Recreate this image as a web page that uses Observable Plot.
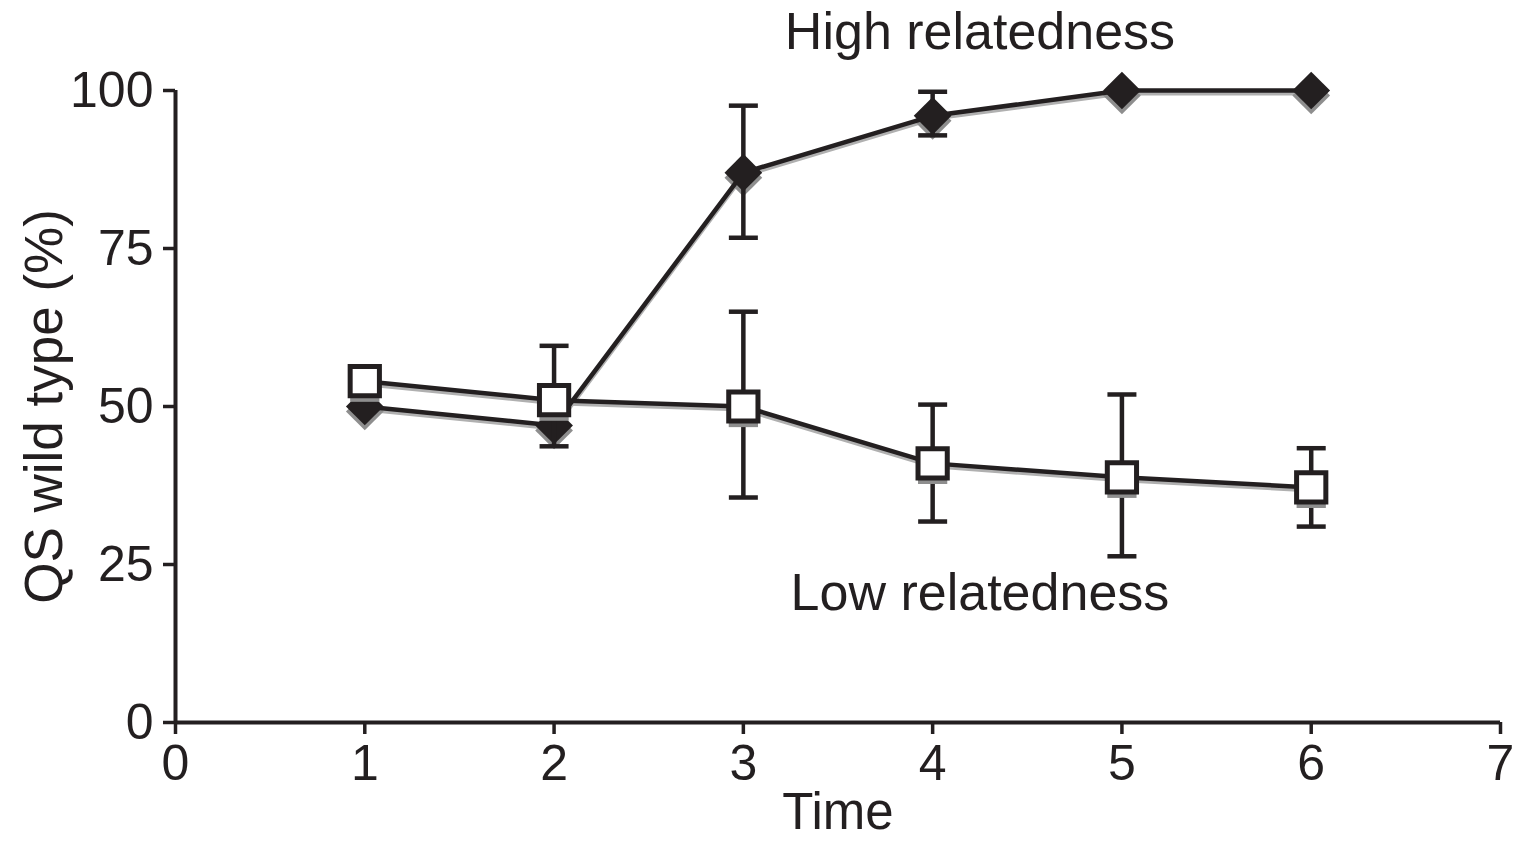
<!DOCTYPE html>
<html>
<head>
<meta charset="utf-8">
<script src="https://cdn.jsdelivr.net/npm/d3@7"></script>
<script src="https://cdn.jsdelivr.net/npm/@observablehq/plot@0.6"></script>
<style>
  html, body { margin: 0; padding: 0; background: #fff; }
  svg { display: block; }
</style>
</head>
<body>
<div id="chart"></div>
<script>
const times = [1, 2, 3, 4, 5, 6];
const highMean  = [50, 47, 87, 96, 100, 100];
const highLower = [50, 47, 76.7, 92.9, 100, 100];
const highUpper = [50, 47, 97.6, 99.8, 100, 100];
const lowMean  = [54, 51, 50, 41, 38.8, 37.2];
const lowLower = [54, 43.7, 35.6, 31.8, 26.3, 31.0];
const lowUpper = [54, 59.6, 65.0, 50.3, 51.9, 43.4];
const xTicks = [0, 1, 2, 3, 4, 5, 6, 7];
const yTicks = [0, 25, 50, 75, 100];
const seriesLabels = ["High relatedness", "Low relatedness"];
const labelTime = [4.25, 4.25];
const labelValue = [109.2, 20.4];

const dark = "#231f20";
const shadow = "#8e8e8e";
const font = "'Liberation Sans', Arial, Helvetica, sans-serif";

const high = times.map((t, i) => ({t, v: highMean[i], lo: highLower[i], hi: highUpper[i]}));
const low = times.map((t, i) => ({t, v: lowMean[i], lo: lowLower[i], hi: lowUpper[i]}));
const highErr = high.filter(d => d.hi > d.lo);
const lowErr = low.filter(d => d.hi > d.lo);
const annotations = seriesLabels.map((label, i) => ({label, t: labelTime[i], v: labelValue[i]}));

const cap = { draw(ctx) { ctx.moveTo(-14.5, 0); ctx.lineTo(14.5, 0); } };

const chart = Plot.plot({
  width: 1516,
  height: 852,
  marginLeft: 175,
  marginRight: 16,
  marginTop: 90,
  marginBottom: 130,
  style: { fontFamily: font, background: "#fff", color: dark, overflow: "visible" },
  x: { domain: [0, 7], axis: null },
  y: { domain: [0, 100], axis: null },
  marks: [
    // axis lines
    Plot.ruleY([0], { x1: 0, x2: 7, stroke: dark, strokeWidth: 4 }),
    Plot.ruleX([0], { y1: 0, y2: 100, stroke: dark, strokeWidth: 4 }),
    Plot.axisX({ ticks: xTicks, tickFormat: d3.format("d"), tickSize: 12, tickPadding: 10, strokeWidth: 3.5, stroke: dark, fill: dark, fontSize: 50, label: null }),
    Plot.axisY({ ticks: yTicks, tickFormat: d3.format("d"), tickSize: 12, tickPadding: 10, strokeWidth: 3.5, stroke: dark, fill: dark, fontSize: 50, label: null }),
    Plot.text(["Time"], { frameAnchor: "bottom", dy: 106, fontSize: 51, fill: dark }),
    Plot.text(["QS wild type (%)"], { frameAnchor: "left", textAnchor: "middle", rotate: -90, dx: -130, fontSize: 53, fill: dark }),

    // shadows
    Plot.line(high, { x: "t", y: "v", stroke: "#b0b0b0", strokeWidth: 4, dy: 3 }),
    Plot.dot(high, { x: "t", y: "v", symbol: "diamond2", r: 17, fill: shadow, dy: 5 }),
    Plot.line(low, { x: "t", y: "v", stroke: "#b0b0b0", strokeWidth: 4, dy: 3 }),

    // high relatedness
    Plot.line(high, { x: "t", y: "v", stroke: dark, strokeWidth: 4.5 }),
    Plot.ruleX(highErr, { x: "t", y1: "lo", y2: "hi", stroke: dark, strokeWidth: 4.5 }),
    Plot.dot(highErr, { x: "t", y: "lo", symbol: cap, stroke: dark, strokeWidth: 4.5 }),
    Plot.dot(highErr, { x: "t", y: "hi", symbol: cap, stroke: dark, strokeWidth: 4.5 }),
    Plot.dot(high, { x: "t", y: "v", symbol: "diamond2", r: 17, fill: dark }),

    // low relatedness
    Plot.line(low, { x: "t", y: "v", stroke: dark, strokeWidth: 4.5 }),
    Plot.ruleX(lowErr, { x: "t", y1: "lo", y2: "hi", stroke: dark, strokeWidth: 4.5 }),
    Plot.dot(lowErr, { x: "t", y: "lo", symbol: cap, stroke: dark, strokeWidth: 4.5 }),
    Plot.dot(lowErr, { x: "t", y: "hi", symbol: cap, stroke: dark, strokeWidth: 4.5 }),
    Plot.dot(low, { x: "t", y: "v", symbol: "square", r: 16.5, fill: shadow, dy: 6 }),
    Plot.dot(low, { x: "t", y: "v", symbol: "square", r: 16.5, fill: "#fff", stroke: dark, strokeWidth: 5 }),

    // annotations
    Plot.text(annotations, { x: "t", y: "v", text: "label", fontSize: 52, fill: dark })
  ]
});
document.getElementById("chart").appendChild(chart);
</script>
</body>
</html>
